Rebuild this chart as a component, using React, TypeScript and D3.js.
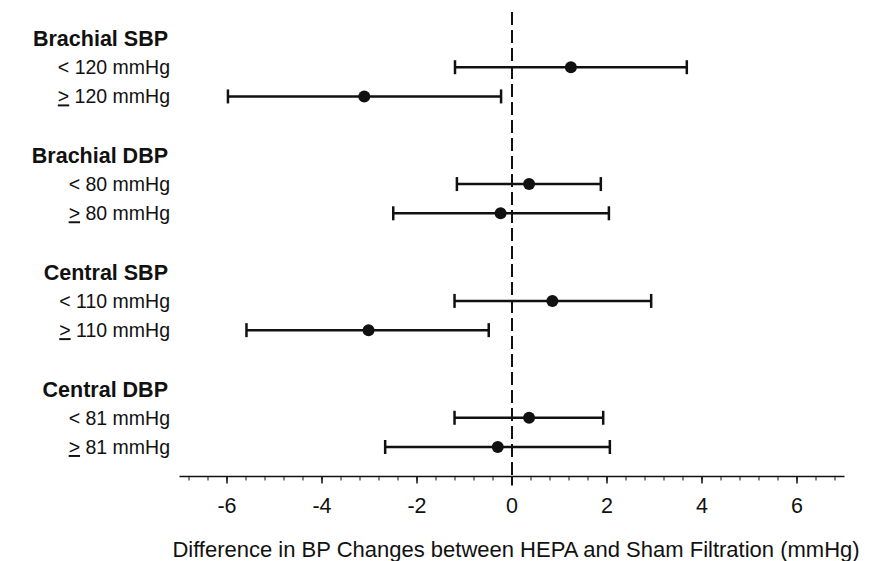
import React from "react";
import * as d3 from "d3";

const groups = ["Brachial SBP", "Brachial DBP", "Central SBP", "Central DBP"];
const thresholds = [120, 80, 110, 81];
const estimates = [1.24, -3.11, 0.36, -0.24, 0.85, -3.02, 0.36, -0.3];
const lowers = [-1.2, -5.98, -1.16, -2.5, -1.21, -5.59, -1.21, -2.67];
const uppers = [3.68, -0.23, 1.87, 2.04, 2.93, -0.49, 1.92, 2.06];
const tickLabels = [-6, -4, -2, 0, 2, 4, 6];
const xTitle = "Difference in BP Changes between HEPA and Sham Filtration (mmHg)";

const W = 870;
const H = 561;
const FONT = "'Liberation Sans', Arial, sans-serif";
const INK = "#111";

export default function App() {
  const x = d3.scaleLinear().domain([-7, 7]).range([179.5, 844.5]);
  const y = d3.scaleLinear().domain([0, 14]).range([38, 447]);
  const axisY = 476.5;
  const labelX = 170;

  const rows: { slot: number; est: number; lo: number; hi: number; op: string; thr: number }[] = [];
  groups.forEach((g, gi) => {
    for (let k = 0; k < 2; k++) {
      const i = gi * 2 + k;
      rows.push({ slot: gi * 4 + 1 + k, est: estimates[i], lo: lowers[i], hi: uppers[i], op: k === 0 ? "<" : ">", thr: thresholds[gi] });
    }
  });

  const minorTicks = d3.range(-17, 18).map((v) => v * 0.4);

  return (
    <svg width={W} height={H} style={{ position: "absolute", left: 0, top: 0, background: "#fff" }} fontFamily={FONT}>
      {groups.map((g, gi) => (
        <text key={g} x={labelX - 2} y={y(gi * 4) + 8} textAnchor="end" fontSize={21.5} fontWeight="bold" fill={INK}>
          {g}
        </text>
      ))}
      {rows.map((r, i) => (
        <text key={"l" + i} x={labelX} y={y(r.slot) + 7} textAnchor="end" fontSize={19.5} fill={INK}>
          {r.op === "<" ? (
            <tspan>{"< "}</tspan>
          ) : (
            <tspan textDecoration="underline">{">"}</tspan>
          )}
          <tspan>{(r.op === "<" ? "" : " ") + r.thr + " mmHg"}</tspan>
        </text>
      ))}
      <line x1={x(0)} x2={x(0)} y1={12} y2={axisY} stroke={INK} strokeWidth={2} strokeDasharray="13,5" />
      {rows.map((r, i) => {
        const cy = y(r.slot);
        return (
          <g key={"e" + i} stroke={INK} strokeWidth={2.5}>
            <line x1={x(r.lo)} x2={x(r.hi)} y1={cy} y2={cy} />
            <line x1={x(r.lo)} x2={x(r.lo)} y1={cy - 7} y2={cy + 7} />
            <line x1={x(r.hi)} x2={x(r.hi)} y1={cy - 7} y2={cy + 7} />
            <circle cx={x(r.est)} cy={cy} r={6} fill={INK} stroke="none" />
          </g>
        );
      })}
      <line x1={x(-7)} x2={x(7)} y1={axisY} y2={axisY} stroke={INK} strokeWidth={1.5} />
      {minorTicks.map((v, i) => (
        <line key={"t" + i} x1={x(v)} x2={x(v)} y1={axisY} y2={axisY + 4} stroke={INK} strokeWidth={1} />
      ))}
      {tickLabels.map((v) => (
        <g key={"m" + v}>
          <line x1={x(v)} x2={x(v)} y1={axisY} y2={axisY + (v === 0 ? 9 : 7)} stroke={INK} strokeWidth={v === 0 ? 2 : 1.5} />
          <text x={x(v)} y={513} textAnchor="middle" fontSize={21.5} fill={INK}>
            {v}
          </text>
        </g>
      ))}
      <text x={516} y={557} textAnchor="middle" fontSize={22} fill={INK}>
        {xTitle}
      </text>
    </svg>
  );
}
